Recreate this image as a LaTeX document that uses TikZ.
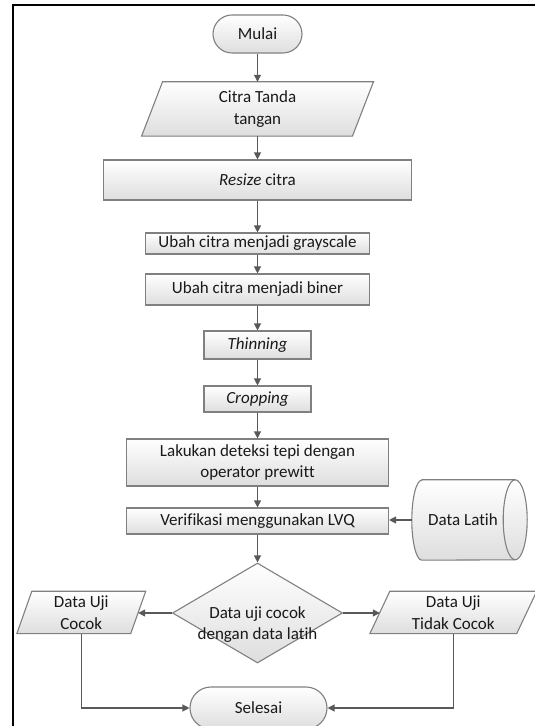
\documentclass[tikz,border=0pt]{standalone}
\usepackage{fontspec}
\setmainfont[Ligatures=NoCommon]{Carlito}
\usetikzlibrary{arrows.meta,shapes.geometric,backgrounds,calc}
\begin{document}
\begin{tikzpicture}[x=1pt,y=1pt,
  font=\fontsize{17}{21.5}\selectfont,
  shapefill/.style={draw=black!50, line width=1.1pt, top color=white, bottom color=black!13},
  box/.style={shapefill, inner sep=0pt, align=center, text=black!90},
  txt/.style={inner sep=0pt, align=center, text=black!90},
  arr/.style={draw=black!65, line width=1.2pt, -{Triangle[length=7pt,width=7pt]}}
]
\useasboundingbox (0,0) rectangle (535,726);
\draw[line width=1.8pt] (535,721) -- (13,721) -- (13,0);

\node[box, minimum width=89pt, minimum height=38pt, rounded corners=19pt] (mulai) at (257.5,692) {Mulai};
\node[txt, minimum width=210.5pt, minimum height=54pt] (citra) at (257.5,617) {Citra Tanda\\tangan};
\node[box, minimum width=308pt, minimum height=40pt] (resize) at (257.5,546) {\textit{Resize} citra};
\node[box, minimum width=224pt, minimum height=21pt] (gray) at (257.5,482.5) {Ubah citra menjadi grayscale};
\node[box, minimum width=224pt, minimum height=31pt] (biner) at (257.5,436.5) {Ubah citra menjadi biner};
\node[box, minimum width=107pt, minimum height=28pt] (thin) at (257.5,381) {\textit{Thinning}};
\node[box, minimum width=107pt, minimum height=26pt] (crop) at (257.5,327) {\textit{Cropping}};
\node[box, minimum width=262pt, minimum height=47pt] (deteksi) at (257.5,263.5) {Lakukan deteksi tepi dengan\\operator prewitt};
\node[box, minimum width=262pt, minimum height=26pt] (verif) at (257.5,205) {Verifikasi menggunakan LVQ};
\node[txt, minimum width=102pt, minimum height=80pt] (latih) at (463,206) {Data Latih};
\node[box, diamond, minimum width=170pt, minimum height=100pt] (dia) at (257.5,113) {};
\node[txt] (diatxt) at (257.5,101.5) {Data uji cocok\\dengan data latih};
\node[txt, minimum width=113.5pt, minimum height=42pt] (cocok) at (81.25,113.5) {Data Uji\\Cocok};
\node[txt, minimum width=146.5pt, minimum height=42pt] (tidak) at (453.25,113.5) {Data Uji\\Tidak Cocok};
\node[box, minimum width=137pt, minimum height=42pt, rounded corners=21pt] (selesai) at (258.5,18) {Selesai};

\begin{scope}[on background layer]
\path[shapefill] ($(citra.south west)+(-10.5,0)$) -- ($(citra.north west)+(10.5,0)$) -- ($(citra.north east)+(10.5,0)$) -- ($(citra.south east)+(-10.5,0)$) -- cycle;
\path[shapefill] ($(cocok.south west)+(-7.5,0)$) -- ($(cocok.north west)+(7.5,0)$) -- ($(cocok.north east)+(7.5,0)$) -- ($(cocok.south east)+(-7.5,0)$) -- cycle;
\path[shapefill] ($(tidak.south west)+(-10,0)$) -- ($(tidak.north west)+(10,0)$) -- ($(tidak.north east)+(10,0)$) -- ($(tidak.south east)+(-10,0)$) -- cycle;
\path[shapefill] ($(latih.north west)+(10,0)$) -- ($(latih.north east)+(1,0)$)
  arc[start angle=90,end angle=-90,x radius=12pt,y radius=40pt]
  -- ($(latih.south west)+(10,0)$)
  arc[start angle=270,end angle=90,x radius=10pt,y radius=40pt] -- cycle;
\draw[draw=black!50, line width=1.1pt] ($(latih.north east)+(1,0)$) arc[start angle=90,end angle=270,x radius=12pt,y radius=40pt];
\end{scope}

\draw[arr] (mulai) -- (citra);
\draw[arr] (citra) -- (resize);
\draw[arr] (resize) -- (gray);
\draw[arr] (gray) -- (biner);
\draw[arr] (biner) -- (thin);
\draw[arr] (thin) -- (crop);
\draw[arr] (crop) -- (deteksi);
\draw[arr] (deteksi) -- (verif);
\draw[arr] (verif) -- (dia);
\draw[arr] (latih.west) -- (latih.west -| verif.east);
\draw[arr] (dia.west) -- (dia.west -| cocok.east);
\draw[arr] (dia.east) -- (dia.east -| tidak.west);
\draw[arr] (cocok.south) |- (selesai.west);
\draw[arr] (tidak.south) |- (selesai.east);
\end{tikzpicture}
\end{document}
